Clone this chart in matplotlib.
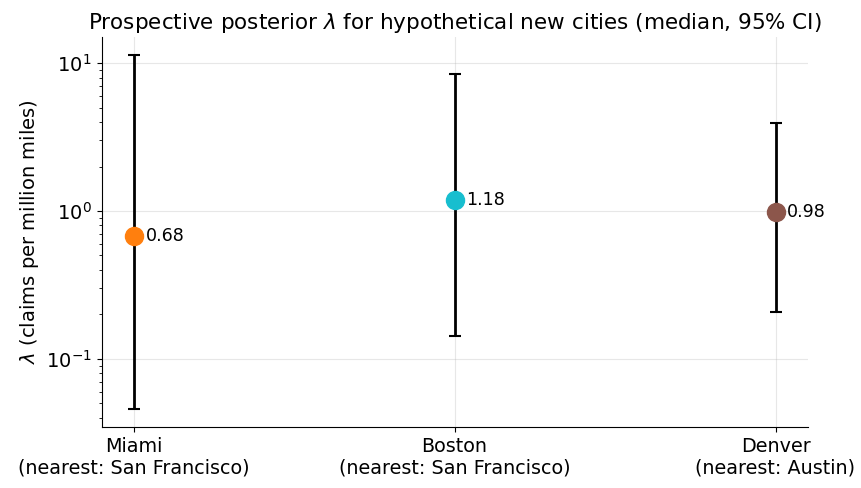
import numpy as np
import matplotlib.pyplot as plt

cities = ['Miami\n(nearest: San Francisco)', 'Boston\n(nearest: San Francisco)', 'Denver\n(nearest: Austin)']
medians = [0.68, 1.18, 0.98]
lo = [0.0455, 0.143, 0.206]
hi = [11.4, 8.4, 3.93]
colors = ['#ff7f0e', '#17becf', '#8c564b']

fig, ax = plt.subplots(figsize=(8.61, 4.88), dpi=100)
fig.subplots_adjust(left=0.118, right=0.938, top=0.924, bottom=0.125)

x = np.arange(len(cities))
for i in range(len(cities)):
    ax.errorbar(x[i], medians[i],
                yerr=[[medians[i] - lo[i]], [hi[i] - medians[i]]],
                fmt='none', ecolor='black', elinewidth=2, capsize=4, capthick=1.5, zorder=2)
    ax.plot(x[i], medians[i], 'o', color=colors[i], markersize=13, zorder=3)
    ax.annotate(f'{medians[i]:.2f}', (x[i], medians[i]), xytext=(8.5, 0),
                textcoords='offset points', va='center', ha='left', fontsize=12.6)

ax.set_yscale('log')
ax.set_xticks(x)
ax.set_xticklabels(cities, fontsize=13.8)
ax.tick_params(axis='y', labelsize=14)
ax.set_ylabel(r'$\lambda$ (claims per million miles)', fontsize=14)
ax.set_title(r'Prospective posterior $\lambda$ for hypothetical new cities (median, 95% CI)', fontsize=15.5)
ax.grid(True, alpha=0.3)
ax.spines['top'].set_visible(False)
ax.spines['right'].set_visible(False)

fig.savefig('out.png', dpi=100)
